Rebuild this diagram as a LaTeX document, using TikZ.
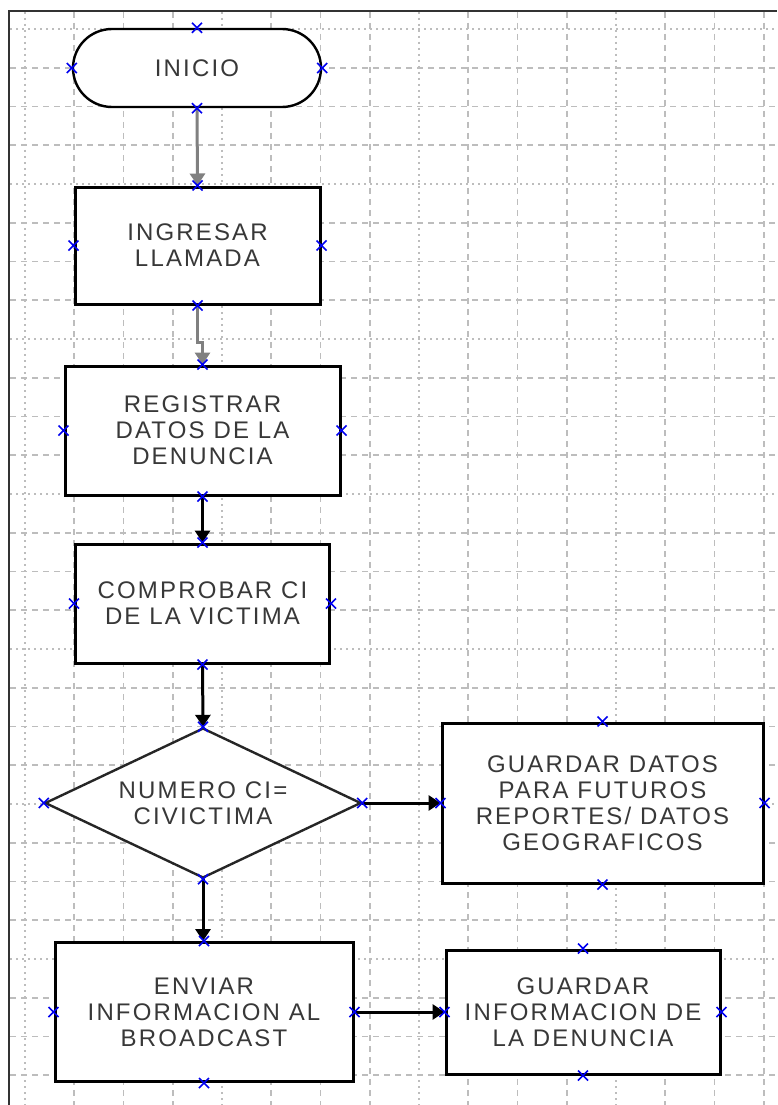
\documentclass[tikz,border=0pt]{standalone}
\usepackage{fontspec}
\setmainfont{Liberation Sans}[LetterSpace=9]
\usetikzlibrary{arrows.meta,shapes.geometric}
\definecolor{txt}{HTML}{383838}
\definecolor{gridc}{HTML}{BDBDBD}
\definecolor{mkblue}{HTML}{0000F0}
\begin{document}
\begin{tikzpicture}[x=1pt,y=-1pt,
  griddash/.style={gridc, line width=1.6pt, dash pattern=on 6pt off 5pt},
  griddot/.style={gridc, line width=1.6pt, dash pattern=on 2pt off 4pt},
  lbl/.style={font=\fontsize{24}{26}\selectfont, text=txt, align=center, inner sep=0pt},
  proc/.style={lbl, draw=black, fill=white, line width=3pt},
  term/.style={lbl, draw=black, fill=white, line width=2.4pt, rounded corners=39pt},
  decision/.style={lbl, diamond, aspect=2.1, draw=black!85, fill=white, line width=2.4pt},
  flow/.style={line width=3pt, -{Triangle[width=15pt,length=12pt]}},
  mk/.pic={\draw[mkblue, line width=1.6pt] (-5,-5) -- (5,5) (-5,5) -- (5,-5);}
]
\useasboundingbox (0,0) rectangle (777,1105);
\fill[white] (0,0) rectangle (777,1105);

% background grid
\foreach \k in {0,4,8,12}
  \draw[griddot] ({25+49.25*\k},12) -- ({25+49.25*\k},1105);
\foreach \k in {1,2,3,5,6,7,9,10,11,13,14,15}
  \draw[griddash] ({25+49.25*\k},12) -- ({25+49.25*\k},1105);
\foreach \k in {0,4,8,12,16,20,24}
  \draw[griddot] (10,{29+38.75*\k}) -- (777,{29+38.75*\k});
\foreach \k in {1,2,3,5,6,7,9,10,11,13,14,15,17,18,19,21,22,23,25,26,27}
  \draw[griddash] (10,{29+38.75*\k}) -- (777,{29+38.75*\k});

% page frame (top and left edges)
\draw[black!80, line width=2pt] (9,1105) -- (9,11) -- (777,11);

% flowchart nodes
\node[term, minimum width=248pt, minimum height=78pt] (inicio) at (197,68) {INICIO};
\node[proc, minimum width=245pt, minimum height=117pt] (ingresar) at (197.5,245.5) {INGRESAR\\LLAMADA};
\node[proc, minimum width=275pt, minimum height=129pt] (registrar) at (202.5,430.5) {REGISTRAR\\DATOS DE LA\\DENUNCIA};
\node[proc, minimum width=254pt, minimum height=119pt] (comprobar) at (202.5,603.5) {COMPROBAR CI\\DE LA VICTIMA};
\node[decision, minimum width=316pt, minimum height=150pt] (numero) at (203,803) {NUMERO CI=\\CIVICTIMA};
\node[proc, minimum width=321pt, minimum height=160pt] (guardar1) at (602.5,803) {GUARDAR DATOS\\PARA FUTUROS\\REPORTES/ DATOS\\GEOGRAFICOS};
\node[proc, minimum width=298pt, minimum height=139pt] (enviar) at (204,1012) {ENVIAR\\INFORMACION AL\\BROADCAST};
\node[proc, minimum width=274pt, minimum height=124pt] (guardar2) at (583,1012) {GUARDAR\\INFORMACION DE\\LA DENUNCIA};

% connectors
\draw[flow, draw=gray] (inicio.south) -- (ingresar.north);
\draw[flow, draw=gray] (ingresar.south) -- ++(0,37) -| (registrar.north);
\draw[flow] (registrar.south) -- (comprobar.north);
\draw[flow] (comprobar.south) -- (numero.north);
\draw[flow] (numero.south) -- (numero.south |- enviar.north);
\draw[flow] (numero.east) -- (guardar1.west);
\draw[flow] (enviar.east) -- (guardar2.west);

% connection point markers
\foreach \n in {inicio,ingresar,registrar,comprobar,numero,guardar1,enviar,guardar2}
  \foreach \a in {north,south,east,west}
    \pic at (\n.\a) {mk};
\end{tikzpicture}
\end{document}
